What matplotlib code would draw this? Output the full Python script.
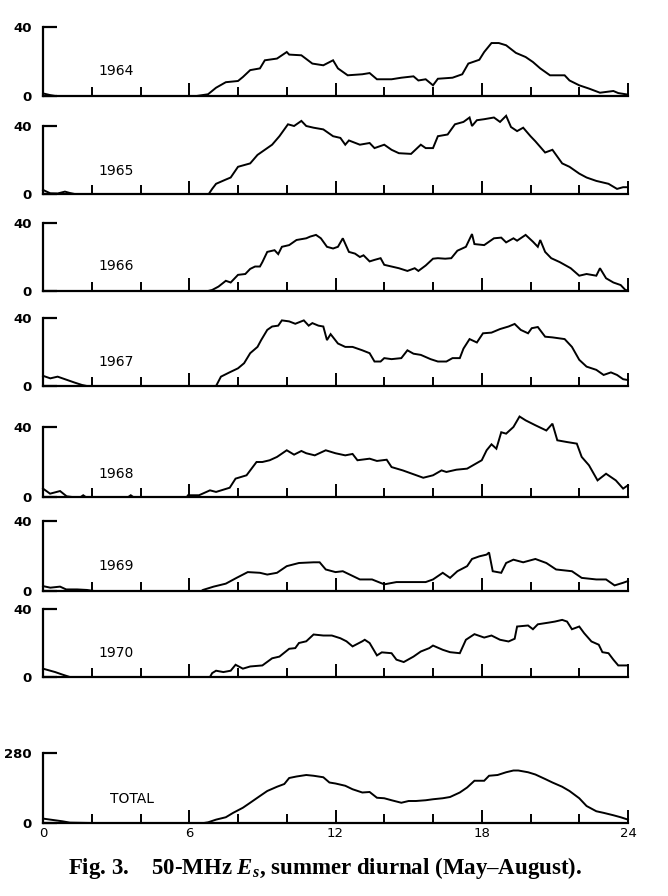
import matplotlib
matplotlib.use("Agg")
import matplotlib.pyplot as plt

# ---------------- data (hour, value) ----------------
d1964 = [(0,1.5),(0.3,0.5),(0.5,0),(6.3,0),(6.77,1),(7.1,4.8),(7.5,8),(8.0,8.7),(8.2,11),(8.5,15),
         (8.9,16),(9.1,20.7),(9.6,21.7),(10.0,25.5),(10.1,24),(10.6,23.6),(11.05,18.8),(11.5,17.8),
         (11.9,20.7),(12.1,16),(12.5,12),(13.1,12.6),(13.4,13.3),(13.7,9.7),(14.3,9.7),(14.7,10.6),
         (15.2,11.4),(15.4,9),(15.7,9.7),(16.0,6.2),(16.2,10),(16.8,10.6),(17.2,12.6),(17.45,18.8),
         (17.9,21),(18.1,25.5),(18.4,30.7),(18.7,30.7),(19.0,29.4),(19.4,25),(19.8,22.6),(20.1,19.7),
         (20.4,16),(20.8,12),(21.4,12),(21.6,9),(22.0,6.2),(22.4,4.3),(22.85,1.9),(23.4,2.9),
         (23.6,1.7),(24.0,0.8)]
d1965 = [(0,2.4),(0.3,0.4),(0.6,0.3),(0.9,1.4),(1.1,0.6),(1.3,0),(6.8,0),(6.94,3),(7.1,6),(7.5,8.5),
         (7.7,9.7),(8.0,16),(8.5,18),(8.8,23),(9.1,26),(9.4,29),(9.7,34),(10.05,41),(10.3,40),
         (10.6,43),(10.8,40),(11.1,39),(11.5,38),(11.9,34),(12.2,33),(12.4,29),(12.55,31.5),(13.0,29),
         (13.4,30),(13.6,27),(14.0,29),(14.3,26),(14.6,24),(15.1,23.6),(15.5,29),(15.7,27),(16.0,27),
         (16.2,34),(16.6,35),(16.9,41),(17.25,42.4),(17.5,45),(17.6,40),(17.8,43.4),(18.1,44),
         (18.5,45),(18.75,42.4),(19.0,46),(19.2,39.4),(19.45,37),(19.7,39),(20.0,34),(20.2,31),
         (20.6,24.4),(20.9,26),(21.3,18),(21.6,16),(22.0,12),(22.3,9.7),(22.7,7.7),(23.2,6),
         (23.55,3),(23.8,4),(24.0,4)]
d1966 = [(0,0),(6.77,0),(6.94,0.6),(7.2,2.6),(7.5,6),(7.7,5),(8.0,9.5),(8.3,10),(8.5,13),(8.7,14.4),
         (8.9,14.4),(9.0,17),(9.2,23),(9.5,24),(9.65,21.7),(9.8,26),(10.1,27),(10.4,30),(10.8,31),
         (10.96,32),(11.2,33),(11.4,31),(11.65,26),(11.9,25),(12.1,26),(12.3,31),(12.55,23),(12.8,22),
         (13.0,20),(13.15,21),(13.4,17.4),(13.6,18.3),(13.85,19.3),(14.0,15.4),(14.3,14.4),(14.6,13.4),
         (14.95,11.8),(15.25,13.4),(15.4,11.8),(15.7,15),(16.0,19),(16.2,19.3),(16.5,19),(16.75,19.3),
         (17.0,23.7),(17.35,26),(17.6,33.5),(17.7,27.6),(18.1,27),(18.5,31),(18.8,31.4),(19.0,28.6),
         (19.3,31),(19.45,29.6),(19.8,33),(20.1,29),(20.3,26),(20.4,30),(20.6,23),(20.85,19.3),
         (21.2,17),(21.65,13.4),(22.0,9),(22.3,10),(22.7,9),(22.85,13.4),(23.1,7.5),(23.4,5),
         (23.7,3.5),(23.9,0.5),(24.0,0.5)]
d1967 = [(0,6),(0.3,4.5),(0.6,5.5),(1.0,3.5),(1.3,2),(1.6,0.6),(1.8,0),(7.1,0),(7.3,5.5),(7.65,8),
         (8.0,10.4),(8.25,13.4),(8.5,19.3),(8.8,23),(8.95,27),(9.2,33),(9.4,35),(9.65,35.5),(9.8,38.6),
         (10.1,38),(10.35,36.6),(10.7,38.6),(10.9,35.5),(11.05,37),(11.3,35.5),(11.5,35),(11.65,27),
         (11.8,30.5),(12.1,25),(12.4,23),(12.7,23),(13.1,21),(13.4,19.3),(13.6,14.4),(13.85,14.4),
         (14.0,16.4),(14.3,15.8),(14.7,16.4),(14.95,21),(15.2,19),(15.5,18.3),(15.9,15.8),(16.2,14.4),
         (16.55,14.4),(16.8,16.4),(17.1,16.4),(17.25,22),(17.5,27.6),(17.8,25.6),(18.05,31),(18.4,31.4),
         (18.75,33.5),(19.1,35),(19.35,36.5),(19.6,33),(19.9,31),(20.05,34),(20.3,34.7),(20.6,29),
         (20.9,28.6),(21.4,27.6),(21.7,23),(22.0,15.4),(22.3,11.4),(22.7,9.5),(23.0,6.5),(23.3,8),
         (23.55,6.5),(23.8,4),(24.0,3.5)]
d1968 = [(0,4.8),(0.29,1.9),(0.7,3.4),(0.97,0.4),(1.2,0),(1.55,0),(1.65,1),(1.75,0),(3.5,0),(3.6,1),
         (3.7,0),(5.9,0),(5.95,1),(6.4,1),(6.85,3.8),(7.1,2.9),(7.66,5.3),(7.9,10.5),(8.35,12.4),
         (8.76,20),(9.0,20),(9.3,21),(9.6,22.9),(10.0,26.7),(10.3,24.2),(10.6,26.3),(10.8,25),
         (11.15,23.8),(11.6,26.7),(12.0,25),(12.4,23.8),(12.7,24.6),(12.9,21),(13.4,21.9),(13.7,20.6),
         (14.1,21.3),(14.3,17.1),(14.76,15.2),(15.2,13),(15.6,11),(16.0,12.4),(16.35,15.2),(16.55,14.3),
         (16.96,15.6),(17.4,16.2),(17.8,19.4),(18.0,21),(18.2,26.7),(18.4,30.1),(18.6,27.6),(18.8,37),
         (19.0,36.2),(19.3,40),(19.55,46),(19.8,43.8),(20.2,41),(20.65,38),(20.9,41.9),(21.1,32.4),
         (21.5,31.4),(21.9,30.5),(22.1,22.9),(22.4,18.1),(22.75,9.5),(23.1,13.3),(23.5,9.5),
         (23.8,4.8),(24.0,6.7)]
d1969 = [(0,2.8),(0.3,1.9),(0.7,2.5),(0.95,0.9),(1.4,0.9),(1.8,0.6),(2.1,0),(6.5,0),(6.56,0.6),
         (7.0,2.5),(7.5,4.2),(7.94,7.5),(8.4,10.8),(8.9,10.4),(9.2,9.4),(9.6,10.4),(10.0,14.2),
         (10.5,16),(11.1,16.4),(11.35,16.4),(11.6,12.3),(12.0,10.8),(12.3,11.3),(13.0,6.6),(13.5,6.6),
         (14.0,3.8),(14.5,5.1),(15.2,5.1),(15.7,5.1),(16.0,6.6),(16.4,10.4),(16.7,7.5),(17.0,11.3),
         (17.4,14.2),(17.6,18.3),(17.9,19.8),(18.2,20.8),(18.3,22),(18.45,11.3),(18.8,10.4),(19.0,16),
         (19.3,17.9),(19.7,16.4),(20.2,18.3),(20.65,16),(21.05,12.3),(21.7,11.3),(22.1,7.5),(22.7,6.6),
         (23.1,6.6),(23.45,3.2),(23.8,4.7),(24.0,5.7)]
d1970 = [(0,4.9),(0.3,3.7),(0.5,2.9),(0.8,1.4),(1.1,0),(6.85,0),(6.94,2.3),(7.1,3.7),(7.4,2.9),
         (7.7,3.7),(7.9,7.2),(8.2,4.9),(8.5,6.2),(9.0,6.8),(9.4,11),(9.7,12),(10.1,16.6),(10.35,17),
         (10.5,20),(10.8,21),(11.1,25),(11.5,24.4),(11.85,24.4),(12.2,22.8),(12.45,21),(12.7,18),
         (13.1,21),(13.2,21.9),(13.4,20),(13.7,12.7),(13.9,14.5),(14.3,14),(14.5,10.2),(14.8,8.8),
         (15.2,12),(15.5,15),(15.85,17),(16.0,18.5),(16.4,16),(16.7,14.6),(17.1,14),(17.35,21.9),
         (17.7,25.2),(18.1,23.2),(18.4,24.4),(18.75,21.9),(19.1,20.9),(19.35,22.5),(19.45,29.7),
         (19.9,30.3),(20.1,28.1),(20.3,31),(20.75,32),(21.0,32.6),(21.3,33.6),(21.5,32.6),(21.7,28.1),
         (22.0,29.7),(22.2,25.8),(22.5,20.9),(22.8,19),(22.95,14.6),(23.2,14),(23.4,10.2),(23.6,6.8),
         (24.0,6.8)]
dtotal = [(0,17.6),(0.3,13.5),(0.8,6.8),(1.1,1.5),(2.0,0),(6.6,0),(6.77,2.7),(7.1,13.5),(7.5,23),
          (7.8,40.6),(8.2,61),(8.5,81),(8.9,108),(9.2,128),(9.6,145),(9.9,156),(10.1,180),(10.4,186),
          (10.8,192),(11.1,189),(11.5,183),(11.75,162),(12.0,158),(12.4,149),(12.7,135),(13.1,122),
          (13.4,124),(13.7,101),(14.0,99),(14.3,91),(14.7,81),(15.0,88),(15.3,88),(15.7,91),(16.0,95),
          (16.4,99),(16.7,104),(17.1,122),(17.4,142),(17.7,169),(18.1,169),(18.3,189),(18.65,192),
          (19.0,203),(19.3,210),(19.5,210),(19.9,203),(20.2,194),(20.6,176),(20.9,162),(21.3,145),
          (21.6,128),(22.0,99),(22.3,68),(22.7,47),(23.0,40.6),(23.4,31),(23.7,23),(24.0,13.5)]

panel_labels = ["1964", "1965", "1966", "1967", "1968", "1969", "1970", "TOTAL"]
panel_data = [d1964, d1965, d1966, d1967, d1968, d1969, d1970, dtotal]
panel_ymax = [40, 40, 40, 40, 40, 40, 40, 280]
x_ticklabels = ["0", "6", "12", "18", "24"]
caption = r"Fig. 3.    50-MHz $E_s$, summer diurnal (May–August)."

# ---------------- layout (pixel geometry of reference) ----------------
W, H = 668, 896
x0_px, x1_px = 43, 628
panel_px = [(27, 96), (126, 194), (223, 291), (318, 386), (427, 497), (521, 591), (609, 677), (753, 823)]
label_pos = [(3.02, 14.7), (3.0, 13.5), (3.0, 14.8), (3.0, 14.0), (3.0, 13.3), (3.0, 14.3), (3.0, 14.0), (3.65, 95)]

plt.rcParams["mathtext.fontset"] = "custom"
plt.rcParams["mathtext.it"] = "Liberation Serif:italic:bold"
plt.rcParams["mathtext.rm"] = "Liberation Serif:bold"

fig = plt.figure(figsize=(W / 100, H / 100), dpi=100)
fig.patch.set_facecolor("white")

for i, (lab, data, ymax, (top, base), (lx, ly)) in enumerate(
        zip(panel_labels, panel_data, panel_ymax, panel_px, label_pos)):
    ax = fig.add_axes([x0_px / W, 1 - base / H, (x1_px - x0_px) / W, (base - top) / H])
    hrs = [p[0] for p in data]
    vals = [p[1] for p in data]
    ax.plot(hrs, vals, color="black", lw=1.4, clip_on=False, solid_joinstyle="miter")
    ax.set_xlim(0, 24)
    ax.set_ylim(0, ymax)
    for s in ("top", "right"):
        ax.spines[s].set_visible(False)
    for s in ("left", "bottom"):
        ax.spines[s].set_linewidth(1.6)
        ax.spines[s].set_color("black")
    ax.set_facecolor("none")

    # x ticks: minor every 2 h (short), major every 6 h (long), pointing up
    ax.set_xticks([6, 12, 18, 24])
    ax.set_xticks([2, 4, 8, 10, 14, 16, 20, 22], minor=True)
    ax.tick_params(axis="x", which="major", direction="in", length=9.5, width=1.4, color="black", pad=3)
    ax.tick_params(axis="x", which="minor", direction="in", length=6.2, width=1.4, color="black")
    if i == len(panel_labels) - 1:
        ax.set_xticks([0, 6, 12, 18, 24])
        ax.set_xticklabels(x_ticklabels, fontsize=9.5, family="DejaVu Sans")
    else:
        ax.set_xticklabels([])

    ax.set_yticks([0, ymax])
    ax.set_yticklabels(["0", str(ymax)], fontsize=9.5, fontweight="bold", family="DejaVu Sans")
    ax.tick_params(axis="y", direction="in", length=10, width=1.6, color="black", pad=8)

    ax.text(lx, ly, lab, ha="center", va="center", fontsize=10, family="DejaVu Sans")

fig.text(0.487, 1 - 868 / H, caption, ha="center", va="center", fontsize=16.5,
         family="Liberation Serif", fontweight="bold")

fig.savefig("out.png", dpi=100, facecolor="white")
